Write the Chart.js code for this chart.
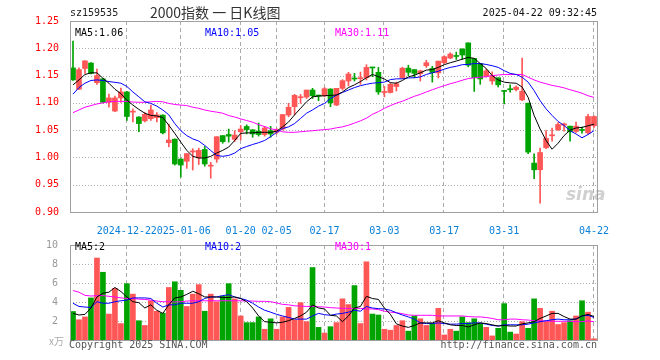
<!DOCTYPE html>
<html><head><meta charset="utf-8">
<script src="https://cdn.jsdelivr.net/npm/chart.js@4.4.0/dist/chart.umd.min.js"></script>
<style>
body{margin:0;background:#fff;width:660px;height:360px;overflow:hidden;position:relative;font-family:"DejaVu Sans Mono",monospace;}
canvas{position:absolute;left:0;}
#c1{top:0;}
#c2{top:235px;}
.t{position:absolute;font-size:10px;line-height:12px;white-space:pre;font-family:"DejaVu Sans Mono",monospace;}
</style></head><body>
<canvas id="c1" width="660" height="235"></canvas>
<canvas id="c2" width="660" height="125"></canvas>
<div class="t" style="left:70px;top:7px;color:#222">sz159535</div>
<div class="t" style="left:150px;top:4px;font-size:14px;line-height:16px;color:#333;font-family:'Noto Sans CJK SC',sans-serif">2000指数 一 日K线图</div>
<div class="t" style="right:63px;top:7px;color:#111">2025-04-22 09:32:45</div>
<div class="t" style="left:75px;top:27px;color:#000">MA5:1.06</div>
<div class="t" style="left:205px;top:27px;color:#0000ff">MA10:1.05</div>
<div class="t" style="left:335px;top:27px;color:#ff00ff">MA30:1.11</div>
<div class="t" style="left:75px;top:241px;color:#000">MA5:2</div>
<div class="t" style="left:205px;top:241px;color:#0000ff">MA10:2</div>
<div class="t" style="left:335px;top:241px;color:#ff00ff">MA30:1</div>
<div class="t" style="left:49px;top:335px;color:#aaa;font-family:'Noto Sans CJK SC',sans-serif">x万</div>
<div class="t" style="left:69px;top:339px;color:#555">Copyright 2025 SINA.COM</div>
<div class="t" style="right:63px;top:339px;color:#555">http://finance.sina.com.cn</div>
<div class="t" style="left:566px;top:184px;font-size:17px;line-height:20px;font-weight:bold;font-style:italic;color:rgba(150,150,150,0.45);font-family:'DejaVu Sans',sans-serif">sina</div>
<script>
const dates = [
'2024-12-10','2024-12-11','2024-12-12','2024-12-13','2024-12-16','2024-12-17','2024-12-18','2024-12-19','2024-12-20','2024-12-23',
'2024-12-24','2024-12-25','2024-12-26','2024-12-27','2024-12-30','2024-12-31','2025-01-02','2025-01-03','2025-01-06','2025-01-07',
'2025-01-08','2025-01-09','2025-01-10','2025-01-13','2025-01-14','2025-01-15','2025-01-16','2025-01-17','2025-01-20','2025-01-21',
'2025-01-22','2025-01-23','2025-01-24','2025-01-27','2025-02-05','2025-02-06','2025-02-07','2025-02-10','2025-02-11','2025-02-12',
'2025-02-13','2025-02-14','2025-02-17','2025-02-18','2025-02-19','2025-02-20','2025-02-21','2025-02-24','2025-02-25','2025-02-26',
'2025-02-27','2025-02-28','2025-03-03','2025-03-04','2025-03-05','2025-03-06','2025-03-07','2025-03-10','2025-03-11','2025-03-12',
'2025-03-13','2025-03-14','2025-03-17','2025-03-18','2025-03-19','2025-03-20','2025-03-21','2025-03-24','2025-03-25','2025-03-26',
'2025-03-27','2025-03-28','2025-03-31','2025-04-01','2025-04-02','2025-04-03','2025-04-07','2025-04-08','2025-04-09','2025-04-10',
'2025-04-11','2025-04-14','2025-04-15','2025-04-16','2025-04-17','2025-04-18','2025-04-21','2025-04-22'];
const tickDates = ['2024-12-23','2025-01-06','2025-01-20','2025-02-05','2025-02-17','2025-03-03','2025-03-17','2025-03-31','2025-04-22'];
const tickLabels = ['2024-12-23','2025-01-06','01-20','02-05','02-17','03-03','03-17','03-31','04-22'];

const opens = [1.164,1.125,1.163,1.173,1.137,1.144,1.101,1.085,1.109,1.120,
1.083,1.074,1.067,1.071,1.073,1.0776,1.027,1.0335,0.997,0.993,
1.010,0.999,1.0146,0.984,0.997,1.040,1.042,1.033,1.047,1.0567,
1.0506,1.048,1.042,1.049,1.0463,1.052,1.0776,1.093,1.1094,1.1106,
1.1235,1.1137,1.113,1.1253,1.096,1.1266,1.140,1.1455,1.1443,1.146,
1.165,1.156,1.119,1.119,1.130,1.1457,1.1636,1.161,1.1537,1.168,
1.163,1.155,1.1735,1.182,1.1864,1.1988,1.2099,1.1815,1.172,1.149,
1.140,1.146,1.122,1.1256,1.1244,1.1055,1.0994,0.9896,0.9774,1.0177,
1.0396,1.0506,1.059,1.0573,1.0476,1.0512,1.045,1.058];
const highs = [1.213,1.164,1.177,1.174,1.162,1.145,1.116,1.1125,1.127,1.121,
1.089,1.075,1.082,1.096,1.082,1.078,1.061,1.034,0.998,1.007,
1.016,1.017,1.020,0.991,1.038,1.040,1.052,1.049,1.0585,1.0597,
1.051,1.063,1.057,1.057,1.053,1.079,1.099,1.1156,1.1155,1.1235,
1.1266,1.114,1.128,1.126,1.1266,1.1425,1.156,1.154,1.1565,1.170,
1.165,1.165,1.130,1.1364,1.138,1.1654,1.169,1.161,1.160,1.178,
1.167,1.1765,1.1864,1.192,1.193,1.1988,1.2099,1.1815,1.172,1.162,
1.157,1.146,1.1226,1.133,1.131,1.182,1.0994,1.0067,1.017,1.0494,
1.0537,1.064,1.0628,1.0573,1.0646,1.0555,1.079,1.076];
const lows = [1.141,1.124,1.154,1.153,1.134,1.100,1.092,1.084,1.101,1.068,
1.065,1.047,1.065,1.068,1.065,1.043,1.0195,0.986,0.964,0.980,
0.977,0.987,0.984,0.962,0.991,1.026,1.028,1.029,1.032,1.043,
1.037,1.039,1.039,1.037,1.043,1.050,1.0745,1.078,1.099,1.108,
1.108,1.104,1.111,1.093,1.095,1.1235,1.131,1.140,1.134,1.142,
1.148,1.1155,1.111,1.118,1.1216,1.1444,1.150,1.146,1.140,1.1648,
1.138,1.1457,1.172,1.181,1.1796,1.1796,1.166,1.121,1.134,1.147,
1.134,1.129,1.098,1.1195,1.122,1.104,1.0067,0.961,0.916,1.016,
1.030,1.0494,1.048,1.030,1.0457,1.0445,1.042,1.055];
const closes = [1.142,1.161,1.177,1.154,1.150,1.101,1.109,1.109,1.120,1.075,
1.084,1.062,1.079,1.087,1.078,1.045,1.032,0.988,0.986,1.007,
1.012,1.013,0.988,0.985,1.038,1.029,1.039,1.041,1.052,1.051,
1.043,1.042,1.054,1.043,1.0506,1.0786,1.092,1.1137,1.1106,1.1235,
1.113,1.1125,1.126,1.100,1.1266,1.1406,1.1529,1.1437,1.146,1.165,
1.164,1.120,1.120,1.134,1.135,1.1636,1.156,1.154,1.1586,1.1735,
1.1556,1.1765,1.1846,1.1895,1.185,1.1877,1.169,1.146,1.1438,1.1586,
1.150,1.133,1.121,1.124,1.1287,1.1213,1.0098,0.9774,1.009,1.0348,
1.0415,1.0604,1.0616,1.0469,1.0573,1.0494,1.075,1.075];
const ma5 = [1.133,1.142,1.152,1.155,1.155,1.145,1.136,1.125,1.117,1.105,
1.096,1.088,1.081,1.077,1.076,1.073,1.059,1.044,1.028,1.013,
1.002,0.999,0.999,1.002,1.008,1.013,1.019,1.031,1.044,1.045,
1.045,1.046,1.046,1.046,1.048,1.056,1.065,1.078,1.090,1.102,
1.111,1.1125,1.113,1.1137,1.1143,1.120,1.128,1.133,1.139,1.146,
1.152,1.148,1.1437,1.137,1.136,1.141,1.1475,1.1506,1.155,1.160,
1.161,1.165,1.170,1.1735,1.1766,1.180,1.1833,1.1815,1.172,1.163,
1.150,1.142,1.138,1.1366,1.136,1.129,1.110,1.077,1.052,1.031,
1.015,1.026,1.040,1.050,1.054,1.055,1.058,1.061];
const ma10 = [1.116,1.128,1.136,1.141,1.142,1.141,1.139,1.1376,1.136,1.130,
1.120,1.111,1.102,1.099,1.094,1.087,1.078,1.062,1.049,1.040,
1.034,1.030,1.022,1.0127,1.0036,1.002,1.0036,1.008,1.016,1.020,
1.0237,1.027,1.031,1.038,1.0457,1.053,1.056,1.062,1.0715,1.081,
1.087,1.094,1.099,1.108,1.114,1.119,1.1235,1.128,1.1315,1.134,
1.136,1.137,1.138,1.1426,1.144,1.144,1.1457,1.146,1.1475,1.152,
1.155,1.158,1.1617,1.165,1.167,1.170,1.1704,1.172,1.172,1.1704,
1.168,1.165,1.159,1.154,1.152,1.147,1.138,1.1225,1.104,1.089,
1.077,1.066,1.0585,1.049,1.043,1.036,1.042,1.049];
const ma30 = [1.082,1.087,1.092,1.095,1.098,1.100,1.102,1.1027,1.1027,1.1027,
1.1015,1.101,1.101,1.102,1.1027,1.102,1.099,1.097,1.096,1.095,
1.092,1.090,1.087,1.0847,1.083,1.081,1.0768,1.074,1.0707,1.0676,
1.0646,1.060,1.0567,1.0524,1.0506,1.047,1.046,1.046,1.047,1.048,
1.049,1.050,1.051,1.052,1.0543,1.056,1.059,1.063,1.067,1.072,
1.079,1.084,1.090,1.095,1.0994,1.103,1.1075,1.112,1.1155,1.120,
1.124,1.128,1.1315,1.135,1.138,1.1414,1.1445,1.146,1.147,1.148,
1.150,1.151,1.152,1.152,1.152,1.152,1.147,1.142,1.138,1.135,
1.132,1.130,1.1274,1.124,1.121,1.1177,1.113,1.110];
const volumes = [3.0,2.13,2.43,4.43,8.63,7.13,2.73,5.43,1.73,5.93,
4.83,2.03,1.53,4.13,3.03,2.83,5.53,6.13,5.23,3.53,
4.83,5.83,3.03,4.83,4.03,4.63,5.93,4.33,2.53,1.83,
1.83,2.43,1.13,2.23,1.13,2.43,3.43,2.13,3.93,1.93,
7.63,1.33,0.73,1.4,1.83,4.33,3.73,5.73,1.73,8.23,
2.73,2.63,1.13,1.03,1.53,2.03,0.93,2.53,2.23,1.53,
1.73,3.33,0.53,1.13,0.93,2.43,1.83,2.23,1.73,1.33,
0.43,1.23,3.83,0.83,0.63,1.93,1.23,4.33,3.33,1.93,
3.03,1.63,1.83,2.03,2.53,4.13,2.93,0.13];
const vma5 = [2.8,2.63,2.7,3.37,4.53,4.93,5.03,5.53,5.1,4.53,
4.03,3.93,3.37,3.7,3.13,2.8,3.7,4.43,4.53,4.8,
5.13,4.87,4.53,4.53,4.53,4.47,4.47,4.53,4.37,4.03,
3.37,2.53,1.93,1.87,1.8,1.87,2.03,2.27,2.53,2.93,
3.7,3.37,3.27,2.6,2.53,1.93,2.53,3.37,3.53,4.6,
4.37,4.27,3.37,2.7,1.7,1.47,1.33,1.53,1.8,1.8,
1.8,2.03,1.8,1.6,1.53,1.53,1.37,1.6,1.8,1.73,
1.6,1.47,1.53,1.47,1.47,1.7,1.8,1.93,2.27,2.53,
2.8,2.8,2.47,2.2,2.2,2.53,2.7,2.47];
const vma10 = [3.87,3.53,3.47,3.43,4.03,3.87,3.87,4.03,4.13,4.2,
4.43,4.43,4.43,4.37,3.87,3.47,3.7,3.7,3.87,3.87,
3.87,4.03,4.37,4.53,4.53,4.67,4.77,4.53,4.37,4.2,
3.87,3.47,3.13,2.93,2.7,2.53,2.37,2.2,2.2,2.2,
2.53,2.8,2.67,2.6,2.73,2.8,2.93,3.13,3.03,3.53,
3.37,3.3,3.27,3.13,2.87,2.63,2.43,2.2,1.8,1.73,
1.73,1.8,1.73,1.67,1.67,1.73,1.73,1.8,1.8,1.67,
1.53,1.47,1.6,1.6,1.6,1.6,1.67,1.8,1.93,2.03,
2.13,2.2,2.13,2.13,2.2,2.53,2.6,2.37];
const vma30 = [5.2,5.03,4.7,4.63,4.67,4.67,4.6,4.53,4.43,4.37,
4.37,4.3,4.27,4.2,4.1,4.03,4.03,4.0,4.03,4.1,
4.13,4.13,4.13,4.13,4.13,4.13,4.13,4.13,4.13,4.1,
4.1,4.07,4.07,4.03,3.9,3.75,3.7,3.6,3.57,3.53,
3.53,3.5,3.47,3.4,3.37,3.33,3.33,3.33,3.33,3.27,
3.27,3.2,3.03,2.93,2.87,2.77,2.63,2.6,2.6,2.6,
2.6,2.53,2.53,2.53,2.53,2.53,2.47,2.43,2.43,2.37,
2.27,2.13,2.13,2.2,2.2,2.13,2.1,2.03,2.0,2.0,
1.97,1.97,1.97,1.97,1.93,1.93,2.0,1.93];
const priceTicks = [0.90,0.95,1.00,1.05,1.10,1.15,1.20,1.25];
const volTicks = [0,2,4,6,8,10];

const RED = '#ff5656', GREEN = '#00a400';
const colors = closes.map((c,i)=> c >= opens[i] ? RED : GREEN);
const bodies = opens.map((o,i)=>[o, closes[i]]);
const wicks = lows.map((l,i)=>[l, highs[i]]);
const MONO = "'DejaVu Sans Mono', monospace";

function xLabel(i){ const k = tickDates.indexOf(dates[i]); return k >= 0 ? tickLabels[k] : ''; }

// frame and grid lines, positioned through the chart's own scales
const frame = {id:'frame',
  beforeDatasetsDraw(chart, args, opts){
    const {ctx, chartArea:a, scales:{x, y}} = chart;
    ctx.save(); ctx.lineWidth = 1; ctx.strokeStyle = '#ababab';
    ctx.setLineDash([1,2]);
    opts.hTicks.forEach(v=>{
      if (v <= y.min || v >= y.max) return;
      const py = Math.round(y.getPixelForValue(v)) + 0.5;
      ctx.beginPath(); ctx.moveTo(a.left, py); ctx.lineTo(a.right, py); ctx.stroke();
    });
    ctx.setLineDash([4,3]);
    tickDates.forEach(d=>{
      const i = dates.indexOf(d);
      const px = Math.round(x.getPixelForValue(i)) - 1 + 0.5;
      ctx.beginPath(); ctx.moveTo(px, a.top); ctx.lineTo(px, a.bottom); ctx.stroke();
    });
    ctx.restore();
  },
  afterDraw(chart){
    const {ctx, chartArea:a} = chart;
    const l = Math.round(a.left), t = Math.round(a.top), r = Math.round(a.right), b = Math.round(a.bottom);
    ctx.save(); ctx.strokeStyle = '#a0a0a0'; ctx.lineWidth = 1;
    ctx.strokeRect(l + 0.5, t + 0.5, r - l, b - t);
    ctx.restore();
  }
};

function lineDs(data, color){ return {type:'line', data, borderColor:color, borderWidth:1, pointRadius:0, tension:0, fill:false, order:0}; }

new Chart(document.getElementById('c1'), {
  type:'bar',
  data:{labels:dates, datasets:[
    lineDs(ma5,'#000000'), lineDs(ma10,'#0000ff'), lineDs(ma30,'#ff00ff'),
    {data:bodies, backgroundColor:colors, barThickness:5, grouped:false, minBarLength:1, order:1},
    {data:wicks, backgroundColor:colors, barThickness:1, grouped:false, order:2}
  ]},
  options:{
    responsive:false, animation:false, events:[],
    layout:{padding:{left:0,right:63,top:21,bottom:0}},
    plugins:{legend:{display:false}, tooltip:{enabled:false}, frame:{hTicks:priceTicks}},
    scales:{
      x:{offset:true,
         grid:{display:false},
         border:{display:false},
         ticks:{autoSkip:false, maxRotation:0, minRotation:0, padding:5, color:'#0a80d8',
                font:{family:MONO, size:10}, callback:(v,i)=>xLabel(i),
                showLabelBackdrop:true, backdropColor:'#ffffff', backdropPadding:0},
         afterFit:s=>{ s.height = 23; }},
      y:{min:0.9, max:1.25,
         afterBuildTicks:s=>{ s.ticks = priceTicks.map(v=>({value:v})); },
         ticks:{color:'#ff0000', font:{family:MONO, size:10}, padding:3, callback:v=>Number(v).toFixed(2)},
         grid:{display:false},
         border:{display:false},
         afterFit:s=>{ s.width = 70; }}
    }
  },
  plugins:[frame]
});

new Chart(document.getElementById('c2'), {
  type:'bar',
  data:{labels:dates, datasets:[
    lineDs(vma5,'#000000'), lineDs(vma10,'#0000ff'), lineDs(vma30,'#ff00ff'),
    {data:volumes, backgroundColor:colors, barThickness:5, order:1}
  ]},
  options:{
    responsive:false, animation:false, events:[],
    layout:{padding:{left:0,right:63,top:5,bottom:0}},
    plugins:{legend:{display:false}, tooltip:{enabled:false}, frame:{hTicks:volTicks}},
    scales:{
      x:{offset:true,
         grid:{display:false},
         border:{display:false},
         ticks:{display:false, autoSkip:false},
         afterFit:s=>{ s.height = 20; }},
      y:{min:0, max:10,
         afterBuildTicks:s=>{ s.ticks = volTicks.map(v=>({value:v})); },
         ticks:{color:'#999999', font:{family:MONO, size:10}, padding:4, callback:v=> v === 0 ? '' : String(v)},
         grid:{display:false},
         border:{display:false},
         afterFit:s=>{ s.width = 70; }}
    }
  },
  plugins:[frame]
});
</script>
</body></html>
